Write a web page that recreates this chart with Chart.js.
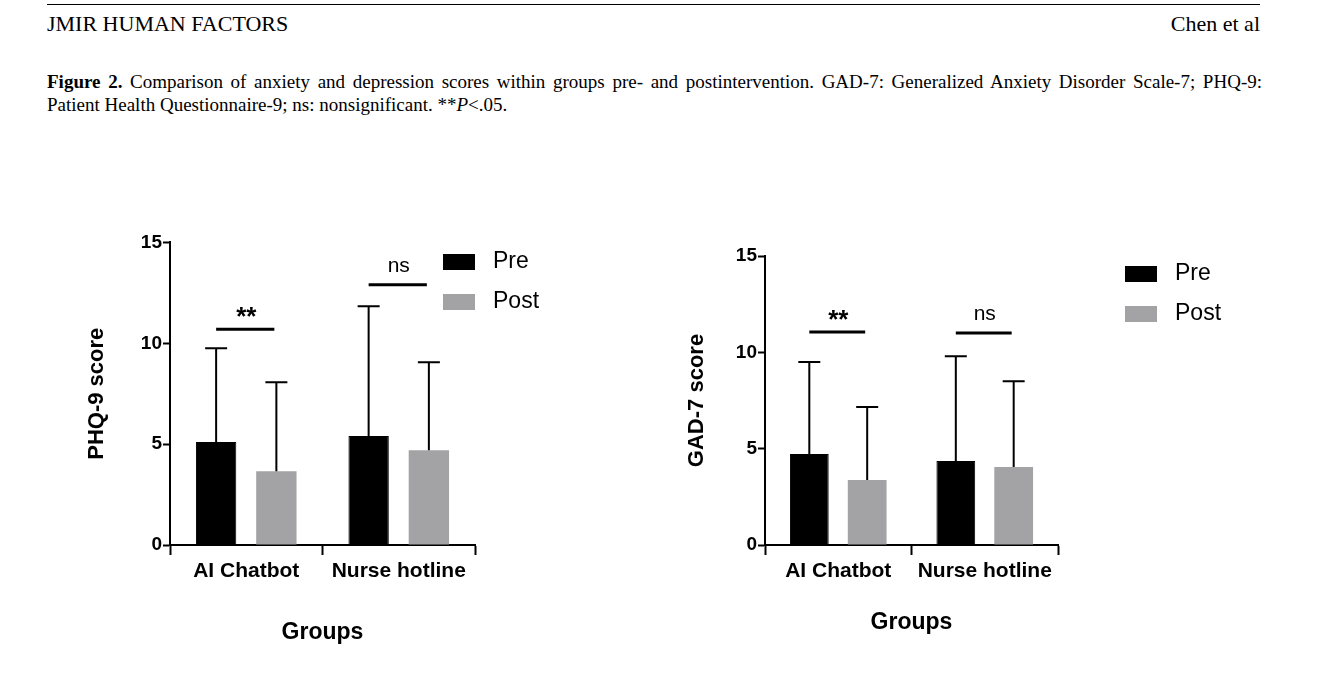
<!DOCTYPE html>
<html><head><meta charset="utf-8">
<script src="https://cdn.jsdelivr.net/npm/chart.js@4"></script>
<style>
body{margin:0;background:#fff;font-family:"Liberation Serif",serif;color:#000;}
#rule{position:absolute;left:47px;top:4px;width:1213px;border-top:1px solid #000;}
#jh{position:absolute;left:47px;top:11px;font-size:22px;}
#au{position:absolute;right:65px;top:11px;font-size:22px;}
#cap{position:absolute;left:47px;top:70px;width:1215px;font-size:19px;line-height:23px;text-align:justify;}
.c{position:absolute;}
</style></head><body>
<div id="rule"></div>
<div id="jh">JMIR HUMAN FACTORS</div>
<div id="au">Chen et al</div>
<div id="cap"><b>Figure 2.</b> Comparison of anxiety and depression scores within groups pre- and postintervention. GAD-7: Generalized Anxiety Disorder Scale-7; PHQ-9: Patient Health Questionnaire-9; ns: nonsignificant. **<i>P</i>&lt;.05.</div>
<div class="c" style="left:80px;top:230px;width:480px;height:420px"><canvas id="phq"></canvas></div>
<div class="c" style="left:680px;top:240px;width:560px;height:400px"><canvas id="gad"></canvas></div>
<script>
// data
const groups = ["AI Chatbot", "Nurse hotline"];
const phqPre = [5.1, 5.4], phqPreErr = [9.75, 11.83];
const phqPost = [3.66, 4.7], phqPostErr = [8.07, 9.06];
const phqSig = [{label: "**", y: 10.7}, {label: "ns", y: 12.9}];
const gadPre = [4.72, 4.36], gadPreErr = [9.5, 9.8];
const gadPost = [3.37, 4.05], gadPostErr = [7.16, 8.5];
const gadSig = [{label: "**", y: 11.05}, {label: "ns", y: 11.0}];
const yTicks = [0, 5, 10, 15];

const FONT = "'Liberation Sans', Arial, sans-serif";

const extras = {
  id: 'extras',
  afterDatasetsDraw(chart, args, opts) {
    const ctx = chart.ctx, y = chart.scales.y, area = chart.chartArea;
    ctx.save();
    ctx.strokeStyle = '#000'; ctx.lineWidth = 2;
    // upward error bars
    chart.data.datasets.forEach((ds, di) => {
      chart.getDatasetMeta(di).data.forEach((bar, i) => {
        const top = y.getPixelForValue(ds.err[i]);
        ctx.beginPath(); ctx.moveTo(bar.x, bar.y); ctx.lineTo(bar.x, top);
        ctx.moveTo(bar.x - 11, top); ctx.lineTo(bar.x + 11, top); ctx.stroke();
      });
    });
    // significance marks
    ctx.fillStyle = '#000'; ctx.textAlign = 'center'; ctx.textBaseline = 'bottom';
    opts.sig.forEach((s, i) => {
      const a = chart.getDatasetMeta(0).data[i].x, b = chart.getDatasetMeta(1).data[i].x;
      const py = y.getPixelForValue(s.y);
      ctx.lineWidth = 3;
      ctx.beginPath(); ctx.moveTo(a, py); ctx.lineTo(b - 2, py); ctx.stroke();
      ctx.font = (s.label === '**' ? 'bold 26px ' : '21px ') + FONT;
      ctx.fillText(s.label, (a + b) / 2, s.label === '**' ? py + 2 : py - 8);
    });
    // legend
    ctx.textAlign = 'left'; ctx.textBaseline = 'middle'; ctx.font = '23px ' + FONT;
    chart.data.datasets.forEach((ds, di) => {
      const lx = area.right + opts.lx, ly = opts.ly + di * 40;
      ctx.fillStyle = ds.backgroundColor;
      ctx.fillRect(lx, ly - 8, 32, 16);
      ctx.fillStyle = '#000';
      ctx.fillText(ds.label, lx + 50, ly);
    });
    ctx.restore();
  }
};

function makeChart(id, pre, preErr, post, postErr, sig, title, padRight, padTop, xH, lx, ly) {
  new Chart(document.getElementById(id), {
    type: 'bar',
    data: {
      labels: groups,
      datasets: [
        {label: "Pre", data: pre, err: preErr, backgroundColor: '#000', borderColor: '#000', borderWidth: 1},
        {label: "Post", data: post, err: postErr, backgroundColor: '#a3a3a6', borderWidth: 0}
      ]
    },
    options: {
      responsive: true, maintainAspectRatio: false, animation: false,
      categoryPercentage: 0.79, barPercentage: 0.67,
      layout: {padding: {left: 0, right: padRight, top: padTop, bottom: 0}},
      plugins: {legend: {display: false}, tooltip: {enabled: false}, extras: {sig: sig, lx: lx, ly: ly}},
      scales: {
        x: {
          afterFit: s => { s.height = xH; },
          grid: {display: true, drawOnChartArea: false, drawTicks: true, tickLength: 10, tickColor: '#000', tickWidth: 2},
          border: {color: '#000', width: 2},
          ticks: {color: '#000', font: {family: FONT, size: 21, weight: 'bold'}, padding: 4},
          title: {display: true, text: 'Groups', color: '#000', font: {family: FONT, size: 23, weight: 'bold'}, padding: {top: 14}}
        },
        y: {
          min: 0, max: 15,
          afterFit: s => { s.width = 90 - (id === 'gad' ? 5 : 0); },
          afterBuildTicks: s => { s.ticks = yTicks.map(v => ({value: v})); },
          grid: {display: true, drawOnChartArea: false, drawTicks: true, tickLength: 7, tickColor: '#000', tickWidth: 2},
          border: {color: '#000', width: 2},
          ticks: {color: '#000', font: {family: FONT, size: 19, weight: 'bold'}, padding: 1},
          title: {display: true, text: title, color: '#000', font: {family: FONT, size: 22, weight: 'bold'}, padding: {bottom: 14}}
        }
      }
    },
    plugins: [extras]
  });
}

makeChart('phq', phqPre, phqPreErr, phqPost, phqPostErr, phqSig, 'PHQ-9 score', 85, 12, 105, -32, 32);
makeChart('gad', gadPre, gadPreErr, gadPost, gadPostErr, gadSig, 'GAD-7 score', 182, 16, 95, 67, 34);
</script>
</body></html>
